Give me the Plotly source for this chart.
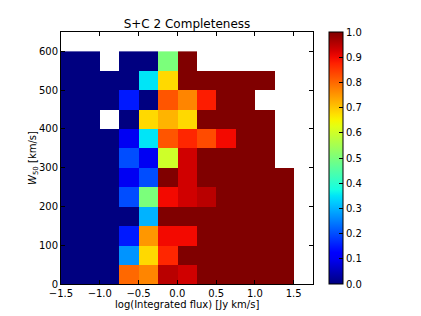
import numpy as np
import plotly.graph_objects as go

# bin edges
x_edges = [-1.5 + 0.25 * i for i in range(13)]
y_edges = [50 * j for j in range(13)]
x_centers = [(a + b) / 2 for a, b in zip(x_edges[:-1], x_edges[1:])]
y_centers = [(a + b) / 2 for a, b in zip(y_edges[:-1], y_edges[1:])]

N = None
row_000 = [0, 0, 0, 0.80, 0.77, 0.95, 0.93, 1, 1, 1, 1, 1]
row_050 = [0, 0, 0, 0.27, 0.68, 0.87, 1, 1, 1, 1, 1, 1]
row_100 = [0, 0, 0, 0.15, 0.75, 0.90, 0.90, 1, 1, 1, 1, 1]
row_150 = [0, 0, 0, 0, 0.30, 1, 1, 1, 1, 1, 1, 1]
row_200 = [0, 0, 0, 0.20, 0.50, 0.90, 0.93, 0.95, 1, 1, 1, 1]
row_250 = [0, 0, 0, 0.10, 0.20, 1, 0.93, 1, 1, 1, 1, 1]
row_300 = [0, 0, 0, 0.20, 0.10, 0.60, 0.93, 1, 1, 1, 1, N]
row_350 = [0, 0, 0, 0.10, 0.35, 0.82, 0.87, 0.83, 0.90, 1, 1, N]
row_400 = [0, 0, N, 0, 0.68, 0.72, 0.68, 1, 1, 1, 1, N]
row_450 = [0, 0, 0, 0.15, 0, 0.82, 0.77, 0.88, 1, 1, N, N]
row_500 = [0, 0, 0, 0, 0.35, 0.68, 1, 1, 1, 1, 1, N]
row_550 = [0, 0, N, 0, 0, 0.50, 1, N, N, N, N, N]

z = [row_000, row_050, row_100, row_150, row_200, row_250,
     row_300, row_350, row_400, row_450, row_500, row_550]
z = [[np.nan if v is None else v for v in r] for r in z]

# matplotlib jet
def jet(v):
    def interp(pts, v):
        for (a, ya), (b, yb) in zip(pts[:-1], pts[1:]):
            if a <= v <= b:
                return ya + (yb - ya) * (v - a) / (b - a) if b > a else ya
        return pts[-1][1]
    r = interp([(0, 0), (0.35, 0), (0.66, 1), (0.89, 1), (1, 0.5)], v)
    g = interp([(0, 0), (0.125, 0), (0.375, 1), (0.64, 1), (0.91, 0), (1, 0)], v)
    b = interp([(0, 0.5), (0.11, 1), (0.34, 1), (0.65, 0), (1, 0)], v)
    return f"rgb({int(r*255+0.5)},{int(g*255+0.5)},{int(b*255+0.5)})"

cs = [[i / 40, jet(i / 40)] for i in range(41)]

# page body has an 8px margin: figure sits at (8, 8)
W, H = 413, 308
L, R, T, B = 53, 305, 24, 276   # plot area in figure pixels
PW, PH = R - L, B - T

font = "DejaVu Sans"
fig = go.Figure(go.Heatmap(
    x=x_centers, y=y_centers, z=z, zmin=0, zmax=1,
    colorscale=cs, xgap=0, ygap=0, hoverongaps=False,
    colorbar=dict(
        thickness=14, len=1, lenmode="fraction", y=0.5, yanchor="middle",
        x=(321 - L) / PW, xanchor="left", xpad=0, ypad=0,
        outlinecolor="black", outlinewidth=1,
        tickvals=[i / 10 for i in range(11)],
        ticktext=[f"{i/10:.1f}" for i in range(11)],
        ticks="inside", ticklen=4, tickcolor="black",
        tickfont=dict(family=font, size=10, color="black"),
    ),
))

xt = [-1.5, -1.0, -0.5, 0.0, 0.5, 1.0, 1.5]
yt = [0, 100, 200, 300, 400, 500, 600]
fig.update_layout(
    width=W, height=H,
    margin=dict(l=L, r=W - R, t=T, b=H - B, autoexpand=False),
    paper_bgcolor="white", plot_bgcolor="white",
    font=dict(family=font, size=10, color="black"),
    title=dict(text="S+C 2 Completeness", x=(L + R) / 2 / W, xanchor="center",
               y=1 - 16 / H, yanchor="middle", font=dict(size=12)),
    xaxis=dict(range=[-1.5, 1.75], tickvals=xt, automargin=False,
               ticktext=[("\u2212" if v < 0 else "") + f"{abs(v):.1f}" for v in xt],
               ticks="inside", ticklen=4, tickcolor="black", showline=True,
               linecolor="black", linewidth=1, mirror="ticks", showgrid=False,
               zeroline=False, ticklabelstandoff=0),
    yaxis=dict(range=[0, 650], tickvals=yt, ticktext=[str(v) for v in yt],
               automargin=False,
               ticks="inside", ticklen=4, tickcolor="black", showline=True,
               linecolor="black", linewidth=1, mirror="ticks", showgrid=False,
               zeroline=False),
    annotations=[
        dict(text="log(Integrated flux) [Jy km/s]", xref="paper", yref="paper",
             x=0.5, y=-(296 - B) / PH, xanchor="center", yanchor="middle",
             showarrow=False, font=dict(size=10)),
        dict(text="<i>W</i><sub>50</sub> [km/s]", xref="paper", yref="paper",
             x=-(L - 25) / PW, y=0.5, xanchor="center", yanchor="middle",
             textangle=-90, showarrow=False, font=dict(size=10)),
    ],
)
fig.write_html("out.html")
